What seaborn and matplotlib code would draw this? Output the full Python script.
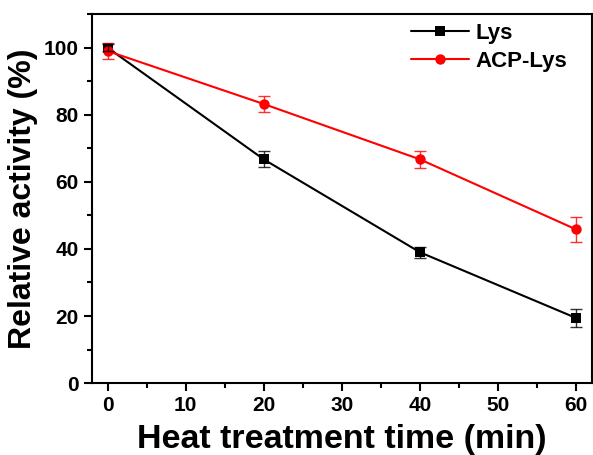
import matplotlib
matplotlib.use("Agg")
import matplotlib.pyplot as plt
import seaborn as sns
import pandas as pd
from matplotlib.ticker import MultipleLocator

sns.set_style("ticks")
plt.rcParams["font.family"] = ["Liberation Sans", "DejaVu Sans"]
plt.rcParams["font.weight"] = "bold"
plt.rcParams["text.color"] = "black"
plt.rcParams["axes.labelcolor"] = "black"
plt.rcParams["xtick.color"] = "black"
plt.rcParams["ytick.color"] = "black"
plt.rcParams["axes.edgecolor"] = "black"

# data
time_min = [0, 20, 40, 60]
lys = [100.0, 66.7, 39.0, 19.4]
lys_err = [1.0, 2.4, 1.6, 2.6]
acp_lys = [99.0, 83.2, 66.7, 45.8]
acp_lys_err = [2.5, 2.5, 2.5, 3.8]

df = pd.DataFrame({
    "time": time_min * 2,
    "activity": lys + acp_lys,
    "err": lys_err + acp_lys_err,
    "sample": ["Lys"] * 4 + ["ACP-Lys"] * 4,
})

fig = plt.figure(figsize=(5.93, 4.55), dpi=100)
ax = fig.add_axes([0.155, 0.158, 0.843, 0.811])

colors = {"Lys": "black", "ACP-Lys": "red"}
markers = {"Lys": "s", "ACP-Lys": "o"}
sns.lineplot(data=df, x="time", y="activity", hue="sample", style="sample",
             palette=colors, markers=markers, dashes=False, markersize=7.5,
             markeredgewidth=0, linewidth=1.5, ax=ax)
for name, sub in df.groupby("sample"):
    ax.errorbar(sub["time"], sub["activity"], yerr=sub["err"], fmt="none",
                ecolor=colors[name], elinewidth=1, capsize=4, capthick=1,
                alpha=0.8)

ax.set_xlim(-2, 62)
ax.set_ylim(0, 110)
ax.xaxis.set_major_locator(MultipleLocator(10))
ax.xaxis.set_minor_locator(MultipleLocator(5))
ax.yaxis.set_major_locator(MultipleLocator(20))
ax.yaxis.set_minor_locator(MultipleLocator(10))
ax.tick_params(which="major", direction="out", length=6, width=1.5, labelsize=15)
ax.tick_params(which="minor", direction="out", length=3.5, width=1.5)
for s in ax.spines.values():
    s.set_linewidth(1.5)
for lab in ax.get_xticklabels() + ax.get_yticklabels():
    lab.set_fontweight("bold")

ax.set_xlabel("Heat treatment time (min)", fontsize=24.5, fontweight="bold",
              labelpad=6)
ax.set_ylabel("Relative activity (%)", fontsize=23, fontweight="bold",
              labelpad=4)

leg = ax.legend(loc="upper right", bbox_to_anchor=(0.978, 1.012), frameon=False,
                fontsize=16, handlelength=2.6, borderaxespad=0.2,
                handletextpad=0.3, labelspacing=0.3)
for t in leg.get_texts():
    t.set_fontweight("bold")

fig.savefig("out.png", dpi=100)
